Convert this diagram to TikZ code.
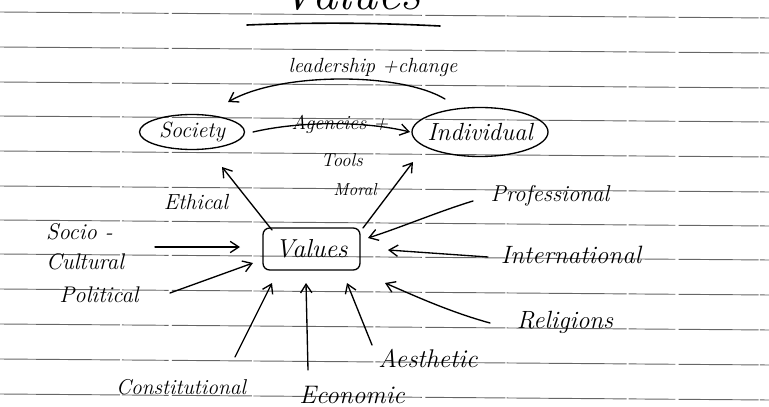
\documentclass[tikz,border=0pt]{standalone}
\usetikzlibrary{arrows.meta}
\begin{document}
\begin{tikzpicture}[x=0.75pt,y=-0.75pt,
  ink/.style={line width=1pt, black, line cap=round},
  arr/.style={ink, -{Straight Barb[length=6.5pt,width=8.5pt,line width=1pt]}},
  hw/.style={font=\fontsize{#1}{#1}\selectfont\itshape, inner sep=0pt},
  rule/.style={line width=0.7pt, black!60, dash pattern=on 90pt off 1.5pt on 35pt off 2.5pt on 60pt off 1pt}]
\useasboundingbox (0,0) rectangle (769,407);

% ruled paper
\foreach \y in {12,47,82,116,151,186,220,254,289,324,359,394}
  \draw[rule] (0,\y) -- (769,\y+6);

% heading, cut by the top edge
\node[hw=38, anchor=base] (title) at (350,9) {Values};
\draw[ink, line width=1.2pt] (247,25) .. controls (320,22) and (380,23) .. (440,26);

% society and individual
\node[hw=16.5] (society) at (192,132) {Society};
\draw[ink] (society.center) ellipse [x radius=52.5, y radius=17.5];
\node[hw=18.6] (indiv) at (480,132) {Individual};
\draw[ink] (indiv.center) ellipse [x radius=68, y radius=24.5];

\node[hw=15.4] (lead) at (373,67) {leadership +change};
\draw[arr] ([shift={(-35,-33)}]indiv.center) .. controls (400,72) and (280,72) .. ([shift={(36,-30)}]society.center);

\node[hw=15] (agen) at (340,124) {Agencies +};
\draw[arr] ([shift={(61,0)}]society.center) .. controls (300,121) and (365,121) .. ([shift={(-70,0)}]indiv.center);

% central box
\node[hw=19.5, draw, line width=1pt, rounded corners=5pt,
      minimum width=72.75pt, minimum height=31.5pt] (values) at (311.5,249) {Values};

\draw[arr] ([shift={(-39.5,-19)}]values.center) -- ([shift={(30,35)}]society.center);
\draw[arr] ([shift={(51.5,-21)}]values.center) -- ([shift={(-67,30)}]indiv.center);

\node[hw=16.4] (ethical) at (196,202) {Ethical};
\node[hw=14] (tools) at (342,160) {Tools};
\node[hw=13] (moral) at (355,190) {Moral};

% influences on the left
\node[font=\fontsize{17}{22.5}\selectfont\itshape, inner sep=0pt, align=left] (socio) at (85,247) {Socio -\\Cultural};
\draw[arr] ([shift={(70,0)}]socio.center) -- ([shift={(-71.5,-2)}]values.center);

\node[hw=17] (political) at (99,295) {Political};
\draw[arr] ([shift={(71,-2)}]political.center) -- ([shift={(-58.5,14)}]values.center);

% influences on the right
\node[hw=17.2] (prof) at (550,196) {Professional};
\draw[arr] ([shift={(-77,5)}]prof.center) .. controls (440,211) and (402,227) .. ([shift={(56.5,-11)}]values.center);

\node[hw=18.8] (intl) at (571,255) {International};
\draw[arr] ([shift={(-83,2)}]intl.center) -- ([shift={(76.5,1)}]values.center);

\node[hw=18.7] (relig) at (565,322) {Religions};
\draw[arr] ([shift={(-75,1)}]relig.center) .. controls (450,312) and (415,296) .. ([shift={(73.5,34)}]values.center);

% influences below
\node[hw=19.2] (aesth) at (428,358) {Aesthetic};
\draw[arr] ([shift={(-56,-13)}]aesth.center) -- ([shift={(35.5,34)}]values.center);

\node[hw=19] (econ) at (352,395) {Economic};
\draw[arr] ([shift={(-44,-25)}]econ.center) -- ([shift={(-5.5,34)}]values.center);

\node[hw=16.1] (const) at (181,387) {Constitutional};
\draw[arr] ([shift={(54,-30)}]const.center) -- ([shift={(-39.5,34)}]values.center);
\end{tikzpicture}
\end{document}
